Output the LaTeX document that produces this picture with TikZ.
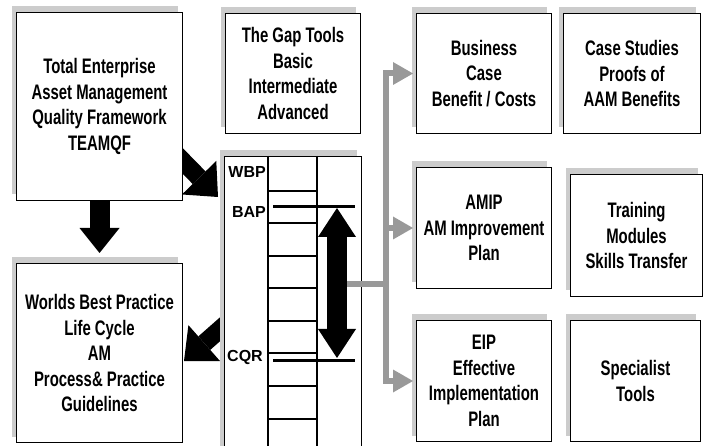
\documentclass[tikz,border=0pt]{standalone}
\usepackage{fontspec}
\setmainfont[FakeStretch=0.71]{Liberation Sans}
\newfontfamily\tagfont{Liberation Sans}
\usetikzlibrary{arrows.meta,shadows,calc,backgrounds}

\definecolor{linkgray}{RGB}{153,153,153}

\tikzset{
  panel/.style={draw=black, line width=1pt, fill=white, align=center,
    inner sep=0pt, anchor=north west,
    font=\fontsize{21}{25.5}\selectfont\bfseries,
    drop shadow={shadow xshift=-5pt, shadow yshift=6pt, fill=gray!40, opacity=1}},
  rung/.style={line width=2pt},
  level/.style={line width=3pt},
  tag/.style={anchor=east, inner sep=0pt, font=\tagfont\fontsize{16}{16}\selectfont\bfseries},
  fatarrow/.style={line width=20pt, -{Triangle[length=25pt,width=40pt,line width=0pt]}},
  slantarrow/.style={line width=18pt, -{Triangle[length=27pt,width=48pt,line width=0pt]}},
  feed/.style={draw=linkgray, line width=6pt},
  feedarrow/.style={feed, -{Triangle[length=20pt,width=23pt,line width=0pt]}, shorten >=3pt},
}

\begin{document}
\begin{tikzpicture}[x=1pt,y=-1pt]
  \useasboundingbox (0,0) rectangle (707,446);
  \clip (0,0) rectangle (707,446);

  % Drawing boxes of the left column
  \node[panel, minimum width=166pt, minimum height=188pt] (tq) at (16,12)
    {Total Enterprise\\Asset Management\\Quality Framework\\TEAMQF};
  \node[panel, minimum width=166pt, minimum height=179pt] (wb) at (16,263)
    {Worlds Best Practice\\Life Cycle\\AM\\Process\& Practice\\Guidelines};

  % Drawing boxes of the middle column
  \node[panel, minimum width=135pt, minimum height=120pt] (gap) at (225,13)
    {The Gap Tools\\Basic\\Intermediate\\Advanced};
  \node[panel, minimum width=137pt, minimum height=320pt] (ladder) at (224,156) {};

  % Drawing boxes of the right columns
  \node[panel, minimum width=135pt, minimum height=120pt] (biz) at (416,13)
    {Business\\Case\\Benefit / Costs};
  \node[panel, minimum width=137pt, minimum height=120pt] (cases) at (563,13)
    {Case Studies\\Proofs of\\AAM Benefits};
  \node[panel, minimum width=135pt, minimum height=121pt] (amip) at (416,167)
    {AMIP\\AM Improvement\\Plan};
  \node[panel, minimum width=132pt, minimum height=122pt] (train) at (570,174)
    {Training\\Modules\\Skills Transfer};
  \node[panel, minimum width=135pt, minimum height=121pt] (eip) at (416,320)
    {EIP\\Effective\\Implementation\\Plan};
  \node[panel, minimum width=130pt, minimum height=121pt] (spec) at (570,320)
    {Specialist\\Tools};

  % Drawing the black block arrows
  \begin{scope}[on background layer]
    \draw[fatarrow, shorten >=10pt] (tq.south) -- (wb.north);
    \draw[slantarrow] ($(tq.south east)+(-10,-50)$) -- ($(ladder.north west)+(-6,41)$);
    \draw[slantarrow] ($(ladder.west)+(6,4)$) -- ($(wb.east)+(1,8)$);
  \end{scope}

  % Drawing the ladder
  \draw[rung] (268,156) -- (268,446);
  \draw[rung] (317,156) -- (317,446);
  \foreach \y in {191,223.5,...,420}
    \draw[rung] (268,\y) -- (317,\y);

  % Marking levels WBP, BAP and CQR
  \node[tag] (wbp) at (266,172) {WBP};
  \node[tag] (bapt) at (266,212) {BAP};
  \node[tag] (cqrt) at (263,357) {CQR};
  \draw[level] (273,207) -- (355,207);
  \draw[level] (273,361) -- (355,361);
  \coordinate (bap) at (337,208);
  \coordinate (cqr) at (337,358);

  % Drawing the grey feed lines
  \coordinate (tap) at (343,284);
  \coordinate (hub) at (386,284);
  \draw[feed] (tap) -- (hub);
  \draw[feedarrow] (hub) |- ([yshift=0pt]biz.west);
  \draw[feedarrow] (hub) |- (amip.west);
  \draw[feedarrow] (hub) |- (eip.west);

  % Drawing the gap arrow between BAP and CQR
  \draw[line width=20pt,
    {Triangle[length=29pt,width=38pt,line width=0pt]}-{Triangle[length=29pt,width=38pt,line width=0pt]}]
    (bap) -- (cqr);
\end{tikzpicture}
\end{document}
